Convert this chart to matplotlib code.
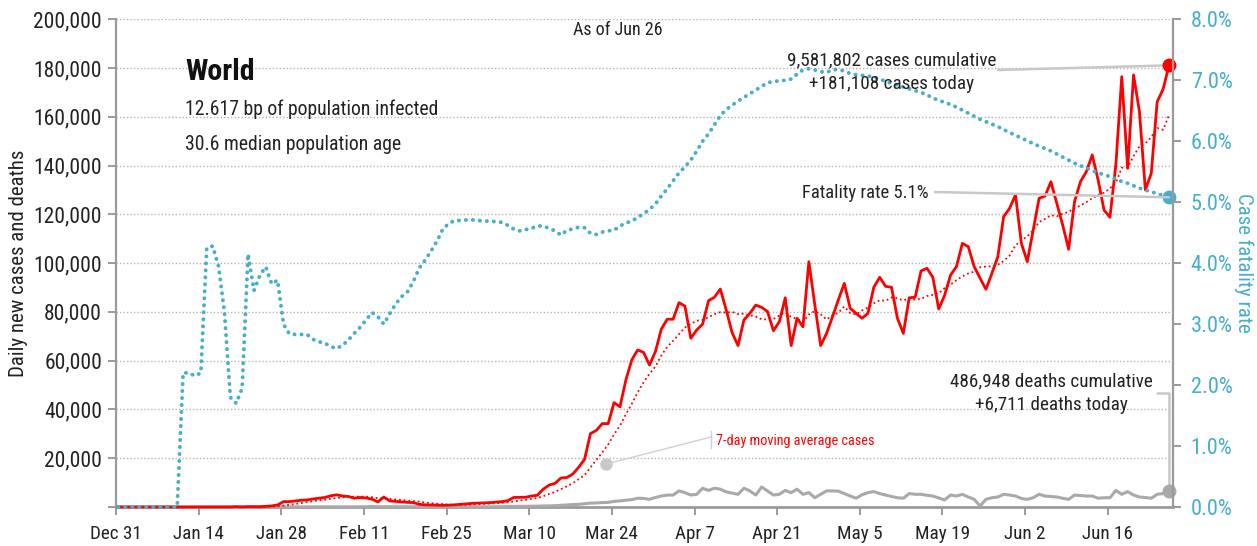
import numpy as np
import matplotlib.pyplot as plt
from matplotlib.lines import Line2D
from matplotlib.ticker import FuncFormatter

# === Data (one value per day, Dec 31 -> Jun 26) ===
cases = [
    27, 0, 0, 17, 0, 15, 0, 0, 0, 0,
    0, 0, 0, 1, 0, 0, 0, 0, 4, 17,
    140, 20, 150, 140, 100, 260, 450, 830, 2200, 2200,
    2500, 2760, 2900, 3300, 3600, 3900, 4600, 5000, 4500, 4300,
    3600, 3900, 3700, 3200, 2100, 4100, 2500, 2300, 2100, 1900,
    1800, 1100, 900, 830, 750, 700, 750, 900, 1100, 1300,
    1500, 1600, 1700, 1800, 2000, 2200, 2600, 3900, 3950, 4000,
    4500, 4800, 7300, 9000, 9700, 11900, 12100, 13500, 16300, 19500,
    30100, 31400, 34200, 34200, 42800, 41100, 52100, 60300, 64400, 63400,
    58200, 63700, 72900, 77000, 77000, 83800, 82400, 69200, 72600, 75000,
    84600, 86000, 89400, 80800, 71500, 66200, 76700, 79400, 82800, 81900,
    80100, 72300, 76000, 85800, 66200, 77400, 73900, 100600, 83000, 66200,
    71200, 78000, 85000, 91700, 81500, 79400, 77400, 79400, 90100, 94200,
    90500, 90100, 77400, 71200, 85800, 86000, 96800, 97900, 94200, 81200,
    86900, 95100, 98600, 108100, 106800, 98600, 93800, 89300, 95800, 102600,
    119100, 122500, 128000, 108100, 100600, 113600, 126600, 127500, 133400, 124500,
    115600, 105700, 125200, 133400, 137500, 144400, 134100, 121800, 118800, 140300,
    176500, 138900, 177200, 162100, 130000, 136900, 166200, 171300, 181108,
]

cases_7day = [
    4, 4, 4, 6, 6, 8, 8, 5, 5, 2,
    2, 0, 0, 0, 0, 0, 0, 0, 1, 3,
    23, 26, 47, 67, 81, 116, 160, 276, 590, 883,
    1220, 1600, 1977, 2384, 2780, 3023, 3366, 3723, 3971, 4171,
    4214, 4257, 4229, 4029, 3614, 3557, 3300, 3114, 2857, 2600,
    2400, 2257, 1800, 1561, 1340, 1140, 976, 847, 847, 904,
    1000, 1121, 1264, 1414, 1571, 1729, 1914, 2257, 2593, 2921,
    3307, 3707, 4436, 5350, 6180, 7310, 8470, 9760, 11400, 13100,
    16200, 19300, 22400, 25600, 29800, 33300, 38000, 42300, 47000, 51200,
    54600, 57600, 62100, 65700, 68100, 70900, 73600, 75100, 76400, 76700,
    77800, 79100, 79900, 79700, 80000, 79100, 79300, 78600, 78100, 77000,
    76900, 77100, 78500, 79800, 77900, 77100, 76000, 78900, 80400, 79000,
    76900, 78600, 79700, 82200, 79500, 79000, 80600, 81800, 83500, 84800,
    84600, 85900, 85600, 84700, 85600, 85000, 85400, 86500, 87000, 87600,
    89800, 91200, 93000, 94600, 95800, 96500, 98300, 98600, 98700, 99300,
    100900, 103100, 107300, 109300, 111000, 113500, 116900, 118100, 119700, 119200,
    120300, 121000, 122600, 123600, 125000, 126600, 128000, 128900, 130700, 132900,
    139100, 139300, 143900, 147900, 149100, 151700, 155400, 154700, 160700,
]

deaths = [
    0, 0, 0, 0, 0, 0, 0, 0, 0, 0,
    0, 1, 0, 0, 0, 1, 0, 0, 0, 0,
    3, 9, 8, 16, 15, 15, 25, 26, 26, 38,
    43, 46, 45, 57, 64, 65, 73, 73, 86, 89,
    97, 108, 97, 254, 121, 143, 142, 106, 98, 115,
    118, 109, 98, 150, 71, 52, 29, 44, 37, 68,
    45, 57, 64, 64, 104, 95, 200, 211, 280, 280,
    340, 350, 440, 450, 550, 700, 850, 1000, 1100, 1350,
    1600, 1650, 1800, 1900, 2300, 2500, 2800, 3000, 3600, 3500,
    3150, 3900, 4500, 4900, 4900, 6600, 5900, 4900, 5200, 7700,
    6800, 7700, 7300, 6200, 5700, 5200, 7700, 6600, 4900, 8200,
    6600, 4900, 5200, 6800, 5900, 7300, 5200, 5900, 3800, 5200,
    6600, 6600, 6500, 5500, 4500, 3600, 5000, 5900, 6300, 5500,
    4900, 4300, 3800, 3600, 5500, 5200, 5200, 4800, 4500, 3700,
    2900, 4900, 4500, 5200, 4100, 3150, 400, 3150, 3800, 4100,
    5200, 4900, 4500, 3500, 3150, 3800, 5200, 4500, 4300, 4100,
    3600, 3150, 4900, 4700, 4500, 4500, 3600, 3800, 3800, 6800,
    5200, 6300, 4900, 4100, 3900, 3600, 5200, 5500, 6711,
]

# case fatality rate, percent
fatality_rate = [
    0, 0, 0, 0, 0, 0, 0, 0, 0, 0,
    0, 2.2, 2.2, 2.15, 2.2, 4.25, 4.28, 3.95, 3.2, 1.8,
    1.7, 1.95, 4.15, 3.55, 3.8, 3.94, 3.66, 3.72, 3.0, 2.84,
    2.83, 2.83, 2.83, 2.75, 2.71, 2.69, 2.63, 2.6, 2.65, 2.74,
    2.85, 2.95, 3.07, 3.19, 3.12, 3.0, 3.17, 3.33, 3.45, 3.53,
    3.7, 3.92, 4.05, 4.2, 4.36, 4.56, 4.65, 4.7, 4.7, 4.71,
    4.71, 4.7, 4.69, 4.69, 4.68, 4.67, 4.62, 4.56, 4.53, 4.55,
    4.57, 4.61, 4.61, 4.57, 4.53, 4.46, 4.54, 4.56, 4.59, 4.58,
    4.49, 4.47, 4.51, 4.53, 4.54, 4.61, 4.66, 4.69, 4.75, 4.81,
    4.88, 4.97, 5.1, 5.22, 5.35, 5.48, 5.58, 5.69, 5.84, 6.0,
    6.12, 6.27, 6.42, 6.52, 6.59, 6.66, 6.72, 6.78, 6.84, 6.9,
    6.96, 6.98, 6.99, 7.0, 7.02, 7.1, 7.17, 7.19, 7.17, 7.14,
    7.13, 7.17, 7.18, 7.15, 7.11, 7.09, 7.08, 7.07, 7.05, 7.02,
    6.98, 6.95, 6.92, 6.89, 6.86, 6.83, 6.8, 6.76, 6.71, 6.67,
    6.64, 6.6, 6.56, 6.51, 6.46, 6.41, 6.36, 6.32, 6.28, 6.24,
    6.19, 6.14, 6.1, 6.05, 6.01, 5.96, 5.92, 5.88, 5.84, 5.79,
    5.74, 5.69, 5.64, 5.6, 5.56, 5.52, 5.48, 5.45, 5.42, 5.38,
    5.34, 5.31, 5.27, 5.23, 5.2, 5.17, 5.14, 5.11, 5.08,
]

tick_days = [0, 14, 28, 42, 56, 70, 84, 98, 112, 126, 140, 154, 168]
tick_labels = ['Dec 31', 'Jan 14', 'Jan 28', 'Feb 11', 'Feb 25', 'Mar 10', 'Mar 24',
               'Apr 7', 'Apr 21', 'May 5', 'May 19', 'Jun 2', 'Jun 16']

# === Style ===
plt.rcParams['font.family'] = ['Roboto Condensed', 'Roboto', 'DejaVu Sans']
RED = '#ff0000'
TEAL = '#47aecb'
GRAY = '#a9a9a9'
AXIS = '#9a9a9a'
LEAD = '#c8c8c8'
INK = '#222222'
W, H = 1257, 546


def fpx(x, y):
    # pixel position in the picture -> figure fraction
    return x / W, 1 - y / H


fig = plt.figure(figsize=(W / 100, H / 100), dpi=100)
ax = fig.add_axes([116 / W, 1 - 507 / H, (1172.7 - 116) / W, (507 - 19.3) / H])
ax2 = ax.twinx()

# data sits a little after midnight of each date
days = np.arange(len(cases)) + 0.37

ax.plot(days, deaths, color=GRAY, lw=2.2, solid_joinstyle='round', zorder=3, clip_on=False)
ax.plot(days, cases_7day, color=RED, lw=1.3, linestyle=(0, (1, 1.6)), zorder=4, clip_on=False)
ax.plot(days, cases, color=RED, lw=2.0, solid_joinstyle='round', zorder=5, clip_on=False)
ax2.plot(days, fatality_rate, color=TEAL, lw=2.8, linestyle=(0, (0.05, 1.75)),
         dash_capstyle='round', clip_on=False)

ax.plot(days[-1], cases[-1], 'o', color=RED, ms=9, zorder=6, clip_on=False)
ax.plot(days[-1], deaths[-1], 'o', color=GRAY, ms=9, zorder=6, clip_on=False)
ax2.plot(days[-1], fatality_rate[-1], 'o', color=TEAL, ms=9, clip_on=False)

# === Axes ===
ax.set_xlim(0, 179)
ax.set_ylim(0, 200000)
ax2.set_ylim(0, 8)
ax.set_xticks(tick_days)
ax.set_xticklabels(tick_labels)
ax.set_yticks(np.arange(0, 200001, 20000))
ax.yaxis.set_major_formatter(FuncFormatter(lambda v, p: '' if v == 0 else f'{int(v):,}'))
ax2.set_yticks(np.arange(0, 8.01, 1))
ax2.yaxis.set_major_formatter(FuncFormatter(lambda v, p: f'{v:.1f}%'))

ax.yaxis.grid(True, linestyle=(0, (1, 1.5)), color='#b4b4b4', lw=1)
ax.set_axisbelow(True)

for a in (ax, ax2):
    a.spines['top'].set_visible(False)
ax.spines['right'].set_visible(False)
ax2.spines['left'].set_visible(False)
ax2.spines['bottom'].set_visible(False)
ax.spines['left'].set_color(AXIS)
ax.spines['left'].set_linewidth(1.6)
ax.spines['bottom'].set_color(AXIS)
ax.spines['bottom'].set_linewidth(2)
ax2.spines['right'].set_color(AXIS)
ax2.spines['right'].set_linewidth(1.6)

ax.tick_params(axis='y', length=6, width=1.4, color=AXIS, labelsize=15.5, pad=4, labelcolor=INK)
ax.tick_params(axis='x', length=6, width=1.4, color=AXIS, labelsize=13.8, pad=7, labelcolor=INK)
ax2.tick_params(axis='y', length=6, width=1.4, color=AXIS, labelsize=16, pad=7, labelcolor=TEAL)

ax.set_ylabel('Daily new cases and deaths', fontsize=15, color=INK, labelpad=4)
ax2.set_ylabel('Case fatality rate', fontsize=15, color=TEAL, rotation=270, labelpad=15)

# === Texts ===
fig.text(*fpx(185, 80), 'World', fontsize=21.5, fontweight='bold', color='#111111', va='baseline')
fig.text(*fpx(185, 115), '12.617 bp of population infected', fontsize=14.2, color=INK, va='baseline')
fig.text(*fpx(185, 150), '30.6 median population age', fontsize=14.2, color=INK, va='baseline')
fig.text(*fpx(618, 35), 'As of Jun 26', fontsize=13, color=INK, ha='center', va='baseline')

fig.text(*fpx(892, 65), '9,581,802 cases cumulative', fontsize=13.8, color=INK, ha='center', va='baseline')
fig.text(*fpx(892, 89), '+181,108 cases today', fontsize=13.8, color=INK, ha='center', va='baseline')
fig.text(*fpx(929, 198), 'Fatality rate 5.1%', fontsize=13.4, color=INK, ha='right', va='baseline')
fig.text(*fpx(1051, 386), '486,948 deaths cumulative', fontsize=13.8, color=INK, ha='center', va='baseline')
fig.text(*fpx(1051, 410), '+6,711 deaths today', fontsize=13.8, color=INK, ha='center', va='baseline')
fig.text(*fpx(716, 445), '7-day moving average cases', fontsize=10.3, color=RED, va='baseline')

# === Leader lines ===
lead = dict(arrowstyle='-', color=LEAD, lw=1.8, shrinkA=0, shrinkB=0)
ax.annotate('', xy=(days[-1], cases[-1]), xytext=fpx(998, 70), textcoords='figure fraction',
            arrowprops=lead)
ax2.annotate('', xy=(days[-1], fatality_rate[-1]), xytext=fpx(935, 192), textcoords='figure fraction',
             arrowprops=lead)
ax.annotate('', xy=(days[-1], deaths[-1]), xytext=fpx(1157, 393), textcoords='figure fraction',
            arrowprops=dict(lead, connectionstyle='angle,angleA=0,angleB=90,rad=0'))

ma_anchor = (83, 17600)
ax.plot(*ma_anchor, 'o', color='#c8c8c8', ms=8, zorder=2)
ax.annotate('', xy=ma_anchor, xytext=fpx(711, 437), textcoords='figure fraction',
            arrowprops=dict(arrowstyle='-', color='#d0d0d0', lw=1, shrinkA=0, shrinkB=0))
x0, y0 = fpx(711, 431)
x1, y1 = fpx(711, 448)
fig.add_artist(Line2D([x0, x1], [y0, y1], color='#d0d0d0', lw=1))

fig.savefig('out.png', dpi=100)
